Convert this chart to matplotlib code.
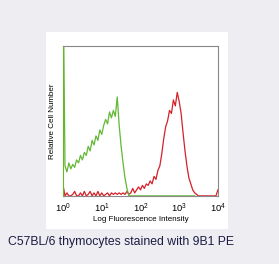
import numpy as np
import matplotlib
matplotlib.use("Agg")
import matplotlib.pyplot as plt

# log10 fluorescence channels, 0.05 steps from 10^0 to 10^4
log_x = [i * 0.05 for i in range(81)]

# relative cell number (fraction of plot height)
# (green trace stops around 10^3.4, nan = no trace)
nan = float('nan')
green = [1.50, 0.20, 0.16, 0.22, 0.18, 0.21, 0.19, 0.24, 0.22, 0.27,
         0.24, 0.29, 0.27, 0.33, 0.30, 0.37, 0.34, 0.40, 0.37, 0.44,
         0.41, 0.47, 0.51, 0.48, 0.56, 0.52, 0.57, 0.53, 0.66, 0.47,
         0.33, 0.22, 0.12, 0.05, 0.00, 0.00, 0.00, 0.00, 0.00, 0.00,
         0.00, 0.00, 0.00, 0.00, 0.00, 0.00, 0.00, 0.00, 0.00, 0.00,
         0.00, 0.00, 0.00, 0.00, 0.00, 0.00, 0.00, 0.00, 0.00, 0.00,
         0.00, 0.00, 0.00, 0.00, 0.00, 0.00, 0.00, 0.00, 0.00, nan,
         nan, nan, nan, nan, nan, nan, nan, nan, nan, nan,
         nan]
red = [0.07, 0.00, 0.02, 0.00, 0.00, 0.01, 0.03, 0.00, 0.00, 0.02,
       0.00, 0.03, 0.00, 0.01, 0.03, 0.00, 0.02, 0.00, 0.03, 0.00,
       0.02, 0.00, 0.01, 0.02, 0.00, 0.02, 0.01, 0.02, 0.01, 0.02,
       0.01, 0.02, 0.01, 0.03, 0.01, 0.02, 0.05, 0.02, 0.04, 0.06,
       0.04, 0.07, 0.05, 0.08, 0.07, 0.10, 0.08, 0.13, 0.11, 0.17,
       0.20, 0.28, 0.38, 0.46, 0.50, 0.57, 0.55, 0.64, 0.60, 0.69,
       0.63, 0.55, 0.42, 0.30, 0.20, 0.12, 0.08, 0.04, 0.02, 0.01,
       0.00, 0.00, 0.00, 0.00, 0.00, 0.00, 0.00, 0.00, 0.00, 0.00,
       0.04]

tick_labels = ["$10^0$", "$10^1$", "$10^2$", "$10^3$", "$10^4$"]

plt.rcParams['font.family'] = ['Liberation Sans', 'DejaVu Sans']
plt.rcParams['mathtext.fontset'] = 'custom'
plt.rcParams['mathtext.rm'] = 'Liberation Sans'
plt.rcParams['mathtext.it'] = 'Liberation Sans'

fig = plt.figure(figsize=(2.79, 2.64), dpi=100, facecolor='#eeedf2')

# white panel behind the plot
panel = fig.add_axes([0.165, 0.133, 0.652, 0.746], zorder=0)
panel.axis('off')
panel.add_patch(plt.Rectangle((0, 0), 1, 1, transform=panel.transAxes,
                              facecolor='white', edgecolor='none'))

ax = fig.add_axes([0.226, 0.258, 0.555, 0.568], zorder=2)
xs = 10 ** np.array(log_x)
ax.plot(xs, red, color='#d42027', lw=0.9)
ax.plot(xs, green, color='#62b834', lw=0.9)
ax.set_xscale('log')
ax.set_xlim(1, 1e4)
ax.set_ylim(0, 1)
ax.set_xticks([1, 10, 100, 1000, 10000])
ax.set_xticklabels(tick_labels, fontsize=6.7)
ax.minorticks_off()
ax.set_yticks([])
ax.tick_params(length=0, pad=4)
for s in ['top', 'right', 'bottom']:
    ax.spines[s].set_color('#888888')
    ax.spines[s].set_linewidth(0.8)
ax.spines['left'].set_color('#62b834')
ax.spines['left'].set_linewidth(0.8)
ax.set_xlabel("Log Fluorescence Intensity", fontsize=5.8, labelpad=1)
ax.set_ylabel("Relative Cell Number", fontsize=5.8, labelpad=5)

fig.text(0.029, 0.083, "C57BL/6 thymocytes stained with 9B1 PE", fontsize=8.8,
         color='#1c1c44', va='center', ha='left')

fig.savefig("out.png", dpi=100, facecolor=fig.get_facecolor())
